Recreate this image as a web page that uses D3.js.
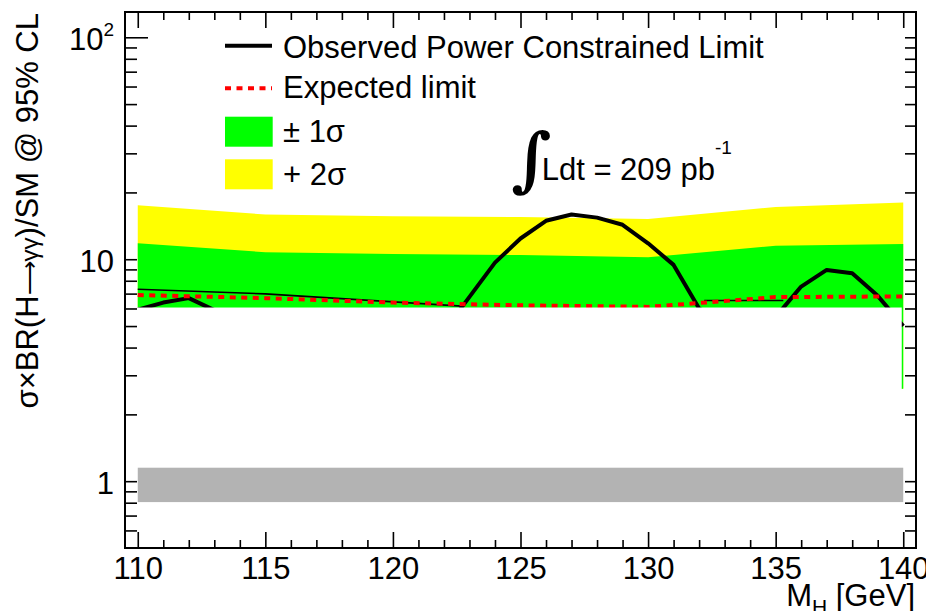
<!DOCTYPE html>
<html><head><meta charset="utf-8">
<script src="https://cdn.jsdelivr.net/npm/d3@7/dist/d3.min.js"></script>
<style>
body{margin:0;background:#fff}
svg text{font-family:"Liberation Sans",Arial,Helvetica,sans-serif;fill:#000}
</style>
</head><body>
<svg id="c" width="926" height="611"></svg>
<script>
// ---------------- data ----------------
const bandMass   = [110, 115, 120, 125, 130, 135, 140];
const bandPlus2  = [17.5, 15.9, 15.6, 15.5, 15.2, 17.2, 18.0];
const bandPlus1  = [11.8, 10.75, 10.55, 10.45, 10.2, 11.5, 11.7];
const bandMinus1 = [2.7, 2.65, 2.6, 2.55, 2.5, 2.55, 2.61];
const expectedLimit = [6.9, 6.68, 6.38, 6.2, 6.1, 6.75, 6.8];

const obsMass = [110,111,112,113,114,115,116,117,118,119,120,121,122,123,124,125,126,127,128,129,130,131,132,133,134,135,136,137,138,139,140];
const obsLimit = [5.92,6.38,6.68,5.9,5.4,5.0,4.7,4.6,4.7,4.9,5.2,5.5,4.75,6.77,9.65,12.4,14.9,15.9,15.4,14.3,11.8,9.43,6.0,5.2,4.9,5.5,7.53,8.95,8.65,6.84,5.0];

const pclMassA = [110, 115, 122.7];
const pclLimitA = [7.33, 6.98, 6.15];
const pclMassB = [132.2, 135.3];
const pclLimitB = [6.52, 6.52];

const powerCut = 6.06;          // below this everything is blanked
const smBand = [0.805, 1.15];   // grey band around SM = 1

const xMajor = [110, 115, 120, 125, 130, 135, 140];
const xMinor = d3.range(110, 141).filter(v => v % 5 !== 0);
const yMajor = [1, 10];
const yTop = [100];
const yMinor = [0.6,0.7,0.8,0.9,2,3,4,5,6,7,8,9,20,30,40,50,60,70,80,90];
const yLabels = [{v:1, t:"1"}, {v:10, t:"10"}, {v:100, t:"10", sup:"2"}];

// ---------------- layout ----------------
const L = 125, R = 916, T = 12, B = 548;
const svg = d3.select("#c");
const x = d3.scaleLinear().domain([109.5, 140.5]).range([L, R]);
const y = d3.scaleLog().domain([0.5, 130]).range([B, T]);

const band = bandMass.map((m, i) => ({m, p2: bandPlus2[i], p1: bandPlus1[i], m1: bandMinus1[i], e: expectedLimit[i]}));

// yellow (+2 sigma)
svg.append("path").datum(band)
  .attr("d", d3.area().x(d => x(d.m)).y0(d => y(d.m1)).y1(d => y(d.p2)))
  .attr("fill", "#ffff00");
// green (+-1 sigma)
svg.append("path").datum(band)
  .attr("d", d3.area().x(d => x(d.m)).y0(d => y(d.m1)).y1(d => y(d.p1)))
  .attr("fill", "#00ff00");

const line = d3.line().x(d => x(d[0])).y(d => y(d[1]));
// thin PCL segments
[[pclMassA, pclLimitA], [pclMassB, pclLimitB]].forEach(([ms, vs]) => {
  svg.append("path").datum(ms.map((m, i) => [m, vs[i]]))
    .attr("d", line).attr("fill", "none").attr("stroke", "#000").attr("stroke-width", 1.6);
});
// observed
svg.append("path").datum(obsMass.map((m, i) => [m, obsLimit[i]]))
  .attr("d", line).attr("fill", "none").attr("stroke", "#000")
  .attr("stroke-width", 4).attr("stroke-linejoin", "round");
// expected
svg.append("path").datum(band.map(d => [d.m, d.e]))
  .attr("d", line).attr("fill", "none").attr("stroke", "#ff0000")
  .attr("stroke-width", 4).attr("stroke-dasharray", "6,5.5");

// white blanking below the power constraint
svg.append("rect")
  .attr("x", x(110) - 2).attr("width", x(140) - x(110) + 0.5)
  .attr("y", y(powerCut)).attr("height", y(0.5) - y(powerCut))
  .attr("fill", "#fff");

// grey SM band
svg.append("rect")
  .attr("x", x(110)).attr("width", x(140) - x(110))
  .attr("y", y(smBand[1])).attr("height", y(smBand[0]) - y(smBand[1]))
  .attr("fill", "#b3b3b3");

// ---------------- axes ----------------
function styleAxis(g) {
  g.select(".domain").remove();
  g.selectAll("line").attr("stroke", "#000").attr("stroke-width", 1.6);
}
svg.append("g").attr("transform", `translate(0,${B})`)
  .call(d3.axisBottom(x).tickValues(xMajor).tickSize(-16).tickPadding(9).tickFormat(d3.format("d")))
  .call(styleAxis)
  .call(g => g.selectAll("text").attr("font-size", 31).attr("fill", "#000")
    .attr("font-family", "Liberation Sans, Arial, sans-serif"));
svg.append("g").attr("transform", `translate(0,${B})`)
  .call(d3.axisBottom(x).tickValues(xMinor).tickSize(-8).tickFormat("")).call(styleAxis);
svg.append("g").attr("transform", `translate(0,${T})`)
  .call(d3.axisTop(x).tickValues(xMajor).tickSize(-16).tickFormat("")).call(styleAxis);
svg.append("g").attr("transform", `translate(0,${T})`)
  .call(d3.axisTop(x).tickValues(xMinor).tickSize(-8).tickFormat("")).call(styleAxis);

svg.append("g").attr("transform", `translate(${L},0)`)
  .call(d3.axisLeft(y).tickValues(yMajor.concat(yMinor)).tickSize(-12).tickFormat("")).call(styleAxis);
svg.append("g").attr("transform", `translate(${L},0)`)
  .call(d3.axisLeft(y).tickValues(yTop).tickSize(-23).tickFormat("")).call(styleAxis);
svg.append("g").attr("transform", `translate(${R},0)`)
  .call(d3.axisRight(y).tickValues(yMajor.concat(yTop, yMinor)).tickSize(-11).tickFormat("")).call(styleAxis);

// y labels
yLabels.forEach(d => {
  const t = svg.append("text").attr("x", 114).attr("y", y(d.v) + 12.5)
    .attr("text-anchor", "end").attr("font-size", 31);
  t.append("tspan").text(d.t);
  if (d.sup) t.append("tspan").attr("font-size", 19).attr("dy", -14).text(d.sup);
});

// frame
svg.append("rect").attr("x", L).attr("y", T).attr("width", R - L).attr("height", B - T)
  .attr("fill", "none").attr("stroke", "#000").attr("stroke-width", 2);

// axis titles
const yt = svg.append("text").attr("transform", "translate(38,13) rotate(-90)")
  .attr("text-anchor", "end").attr("font-size", 31);
yt.append("tspan").text("σ×BR(H");
yt.append("tspan").attr("font-size", 24).text("⟶γγ");
yt.append("tspan").text(")/SM @ 95% CL");

const xt = svg.append("text").attr("x", 915).attr("y", 606)
  .attr("text-anchor", "end").attr("font-size", 31);
xt.append("tspan").text("M");
xt.append("tspan").attr("font-size", 21).attr("dy", 8).text("H");
xt.append("tspan").attr("dy", -8).text(" [GeV]");

// ---------------- legend ----------------
const lg = svg.append("g");
lg.append("line").attr("x1", 225).attr("x2", 272).attr("y1", 45.7).attr("y2", 45.7)
  .attr("stroke", "#000").attr("stroke-width", 4);
lg.append("text").attr("x", 283).attr("y", 57.5).attr("font-size", 31).text("Observed Power Constrained Limit");
lg.append("line").attr("x1", 225).attr("x2", 272).attr("y1", 88.3).attr("y2", 88.3)
  .attr("stroke", "#ff0000").attr("stroke-width", 4).attr("stroke-dasharray", "6,5.5");
lg.append("text").attr("x", 283).attr("y", 97.5).attr("font-size", 31).text("Expected limit");
lg.append("rect").attr("x", 225).attr("y", 116.7).attr("width", 47.7).attr("height", 30).attr("fill", "#00ff00");
lg.append("text").attr("x", 283).attr("y", 141.5).attr("font-size", 31).text("± 1σ");
lg.append("rect").attr("x", 225).attr("y", 159.3).attr("width", 47.7).attr("height", 30).attr("fill", "#ffff00");
lg.append("text").attr("x", 283).attr("y", 185).attr("font-size", 31).text("+ 2σ");

// luminosity
svg.append("text").attr("x", 511).attr("y", 183).attr("font-size", 70)
  .style("font-family", "DejaVu Serif, serif").style("font-weight", "bold").text("∫");
const lum = svg.append("text").attr("x", 541.7).attr("y", 180).attr("font-size", 31);
lum.append("tspan").text("Ldt = 209 pb");
lum.append("tspan").attr("font-size", 19).attr("dy", -26).text("-1");
</script>
</body></html>
